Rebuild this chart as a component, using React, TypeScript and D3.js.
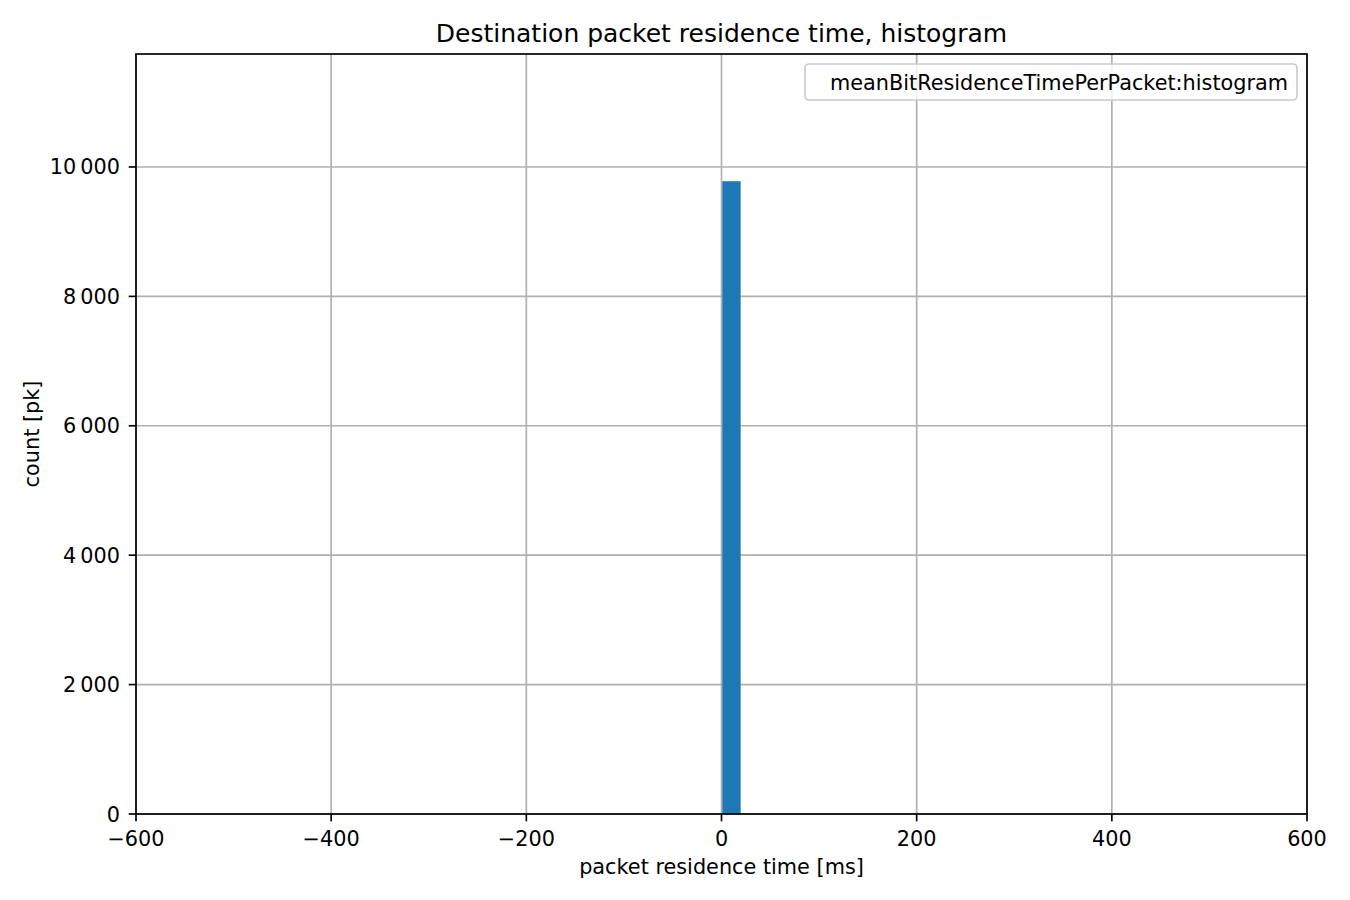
import React from "react";
import * as d3 from "d3";

const binEdges: [number, number][] = [[0, 18.8]];
const binCounts: number[] = [9780];
const xTicks: number[] = [-600, -400, -200, 0, 200, 400, 600];
const yTicks: number[] = [0, 2000, 4000, 6000, 8000, 10000];
const legendLabel = "meanBitResidenceTimePerPacket:histogram";
const title = "Destination packet residence time, histogram";
const xLabel = "packet residence time [ms]";
const yLabel = "count [pk]";

const W = 1350, H = 900;
const L = 136, R = 1307, T = 54, B = 814;
const FONT = "'DejaVu Sans', sans-serif";
const FS = 20.8;
const LW = 1.67;

function fmt(v: number): string {
  const s = Math.abs(v).toString().replace(/\B(?=(\d{3})+(?!\d))/g, "\u2009");
  return (v < 0 ? "\u2212" : "") + s;
}

export default function App() {
  const x = d3.scaleLinear().domain([-600, 600]).range([L, R]);
  const y = d3.scaleLinear().domain([0, 11746]).range([B, T]);
  return (
    <svg width={W} height={H} style={{ position: "absolute", left: 0, top: 0 }} fontFamily={FONT}>
      <rect x={0} y={0} width={W} height={H} fill="white" />
      {xTicks.map((t) => (
        <line key={"gx" + t} x1={x(t)} x2={x(t)} y1={T} y2={B} stroke="#b0b0b0" strokeWidth={LW} />
      ))}
      {yTicks.map((t) => (
        <line key={"gy" + t} x1={L} x2={R} y1={y(t)} y2={y(t)} stroke="#b0b0b0" strokeWidth={LW} />
      ))}
      {binEdges.map((e, i) => (
        <rect key={"b" + i} x={x(e[0]) + 0.8} y={y(binCounts[i])} width={x(e[1]) - x(e[0])} height={y(0) - y(binCounts[i])} fill="#1f77b4" />
      ))}
      <rect x={L} y={T} width={R - L} height={B - T} fill="none" stroke="black" strokeWidth={LW} />
      {xTicks.map((t) => (
        <g key={"tx" + t}>
          <line x1={x(t)} x2={x(t)} y1={B} y2={B + 7.3} stroke="black" strokeWidth={LW} />
          <text x={x(t)} y={845.5} textAnchor="middle" fontSize={FS} fill="black">{fmt(t)}</text>
        </g>
      ))}
      {yTicks.map((t) => (
        <g key={"ty" + t}>
          <line x1={L - 7.3} x2={L} y1={y(t)} y2={y(t)} stroke="black" strokeWidth={LW} />
          <text x={120} y={y(t) + 7.5} textAnchor="end" fontSize={FS} fill="black">{fmt(t)}</text>
        </g>
      ))}
      <text x={(L + R) / 2} y={42} textAnchor="middle" fontSize={25} fill="black">{title}</text>
      <text x={(L + R) / 2} y={874} textAnchor="middle" fontSize={FS} fill="black">{xLabel}</text>
      <text transform={`translate(39,${(T + B) / 2}) rotate(-90)`} textAnchor="middle" fontSize={FS} fill="black">{yLabel}</text>
      <rect x={805} y={64} width={492} height={36} rx={4} fill="white" fillOpacity={0.8} stroke="#cccccc" strokeWidth={1.67} />
      <text x={830} y={89.5} fontSize={FS} fill="black">{legendLabel}</text>
    </svg>
  );
}
